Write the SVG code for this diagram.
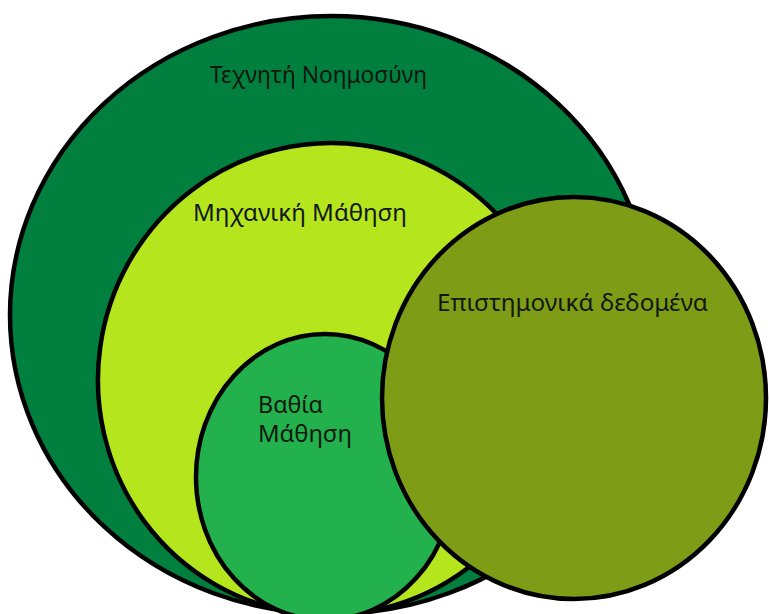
<svg xmlns="http://www.w3.org/2000/svg" width="769" height="614" viewBox="0 0 769 614">
<style>
.shape{stroke:#000;stroke-width:4.5}
.lbl{font-family:"Noto Sans","Open Sans","DejaVu Sans",sans-serif;font-size:23.5px;fill:#121810}
</style>
<rect width="769" height="614" fill="#fff"/>
<g id="ai">
<ellipse class="shape" cx="331" cy="315" rx="321" ry="299" fill="#007F3E"/>
<text class="lbl" x="210" y="83" textLength="217" lengthAdjust="spacingAndGlyphs">Τεχνητή Νοημοσύνη</text>
</g>
<g id="ml">
<ellipse class="shape" cx="330" cy="379" rx="232" ry="236" transform="rotate(8 330 379)" fill="#B5E61D"/>
<text class="lbl" x="193" y="221" textLength="214" lengthAdjust="spacingAndGlyphs">Μηχανική Μάθηση</text>
</g>
<g id="dl">
<ellipse class="shape" cx="325" cy="477" rx="129" ry="143" fill="#22B14C"/>
<text class="lbl" x="258" y="413" textLength="65" lengthAdjust="spacingAndGlyphs">Βαθία</text>
<text class="lbl" x="258" y="442" textLength="94" lengthAdjust="spacingAndGlyphs">Μάθηση</text>
</g>
<g id="data">
<ellipse class="shape" cx="574" cy="398" rx="192" ry="201" fill="#7F9C17"/>
<text class="lbl" x="437" y="311" textLength="271" lengthAdjust="spacingAndGlyphs">Επιστημονικά δεδομένα</text>
</g>
<g id="connectors"/>
</svg>
